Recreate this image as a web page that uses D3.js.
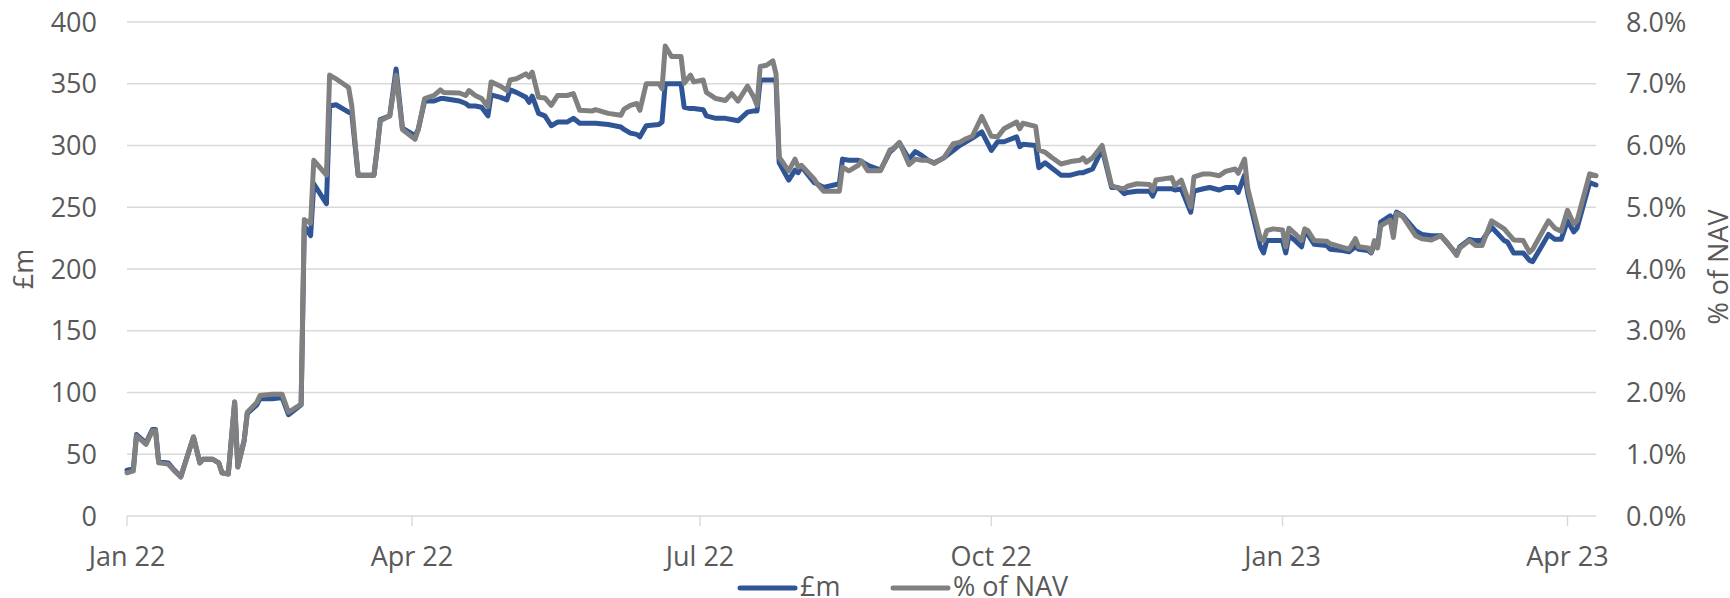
<!DOCTYPE html>
<html>
<head>
<meta charset="utf-8">
<script src="https://cdn.jsdelivr.net/npm/d3@7/dist/d3.min.js"></script>
<style>
  html, body { margin: 0; padding: 0; background: #fff; }
  svg { display: block; font-family: "Open Sans", sans-serif; }
</style>
</head>
<body>
<div id="canvas"></div>
<script>
// observation dates (shared by both series)
const dates = [
  "2022-01-01","2022-01-03","2022-01-04","2022-01-07","2022-01-09","2022-01-10","2022-01-11","2022-01-14","2022-01-16","2022-01-18",
  "2022-01-22","2022-01-24","2022-01-25","2022-01-28","2022-01-30","2022-01-31","2022-02-02","2022-02-04","2022-02-05","2022-02-07",
  "2022-02-08","2022-02-11","2022-02-12","2022-02-16","2022-02-19","2022-02-21","2022-02-25","2022-02-26","2022-02-28","2022-03-01",
  "2022-03-05","2022-03-06","2022-03-08","2022-03-12","2022-03-13","2022-03-15","2022-03-20","2022-03-21","2022-03-22","2022-03-25",
  "2022-03-27","2022-03-29","2022-04-02","2022-04-03","2022-04-05","2022-04-08","2022-04-10","2022-04-11","2022-04-16","2022-04-18",
  "2022-04-19","2022-04-21","2022-04-23","2022-04-25","2022-04-26","2022-04-29","2022-05-01","2022-05-02","2022-05-04","2022-05-07",
  "2022-05-08","2022-05-09","2022-05-11","2022-05-13","2022-05-15","2022-05-17","2022-05-20","2022-05-22","2022-05-24","2022-05-28",
  "2022-05-29","2022-06-02","2022-06-06","2022-06-07","2022-06-09","2022-06-11","2022-06-12","2022-06-14","2022-06-18","2022-06-19",
  "2022-06-20","2022-06-22","2022-06-25","2022-06-26","2022-06-28","2022-06-29","2022-07-02","2022-07-03","2022-07-06","2022-07-09",
  "2022-07-11","2022-07-13","2022-07-16","2022-07-18","2022-07-19","2022-07-20","2022-07-22","2022-07-24","2022-07-25","2022-07-26",
  "2022-07-29","2022-07-31","2022-08-01","2022-08-02","2022-08-06","2022-08-07","2022-08-09","2022-08-14","2022-08-15","2022-08-17",
  "2022-08-20","2022-08-21","2022-08-23","2022-08-27","2022-08-30","2022-08-31","2022-09-02","2022-09-05","2022-09-07","2022-09-09",
  "2022-09-11","2022-09-13","2022-09-16","2022-09-19","2022-09-21","2022-09-23","2022-09-25","2022-09-28","2022-10-01","2022-10-03",
  "2022-10-05","2022-10-09","2022-10-10","2022-10-11","2022-10-15","2022-10-16","2022-10-18","2022-10-20","2022-10-23","2022-10-26",
  "2022-10-29","2022-10-30","2022-10-31","2022-11-02","2022-11-05","2022-11-08","2022-11-10","2022-11-12","2022-11-13","2022-11-16",
  "2022-11-20","2022-11-21","2022-11-22","2022-11-27","2022-11-28","2022-11-30","2022-12-03","2022-12-04","2022-12-07","2022-12-09",
  "2022-12-12","2022-12-14","2022-12-17","2022-12-18","2022-12-20","2022-12-21","2022-12-25","2022-12-26","2022-12-27","2022-12-29",
  "2023-01-01","2023-01-02","2023-01-03","2023-01-05","2023-01-07","2023-01-08","2023-01-09","2023-01-11","2023-01-15","2023-01-16",
  "2023-01-20","2023-01-22","2023-01-24","2023-01-25","2023-01-28","2023-01-29","2023-01-30","2023-01-31","2023-02-01","2023-02-04",
  "2023-02-05","2023-02-06","2023-02-08","2023-02-12","2023-02-14","2023-02-17","2023-02-20","2023-02-22","2023-02-25","2023-02-26",
  "2023-03-01","2023-03-03","2023-03-05","2023-03-08","2023-03-12","2023-03-13","2023-03-15","2023-03-18","2023-03-20","2023-03-21",
  "2023-03-26","2023-03-28","2023-03-30","2023-04-01","2023-04-03","2023-04-04","2023-04-08","2023-04-10"
];

// £m (left axis)
const valueGBPm = [
  37,38,66,59,70,70,44,43,37,32,
  64,43,46,46,43,35,34,92,40,61,
  83,90,95,95,96,82,90,235,227,269,
  253,332,333,327,326,276,276,297,321,324,
  362,314,308,313,336,336,338,338,336,334,
  332,332,331,324,341,339,337,345,343,339,
  335,340,326,324,316,319,319,322,318,318,
  318,317,315,313,310,309,307,316,317,319,
  350,350,350,331,330,330,329,324,322,322,
  321,320,327,328,328,353,353,353,353,286,
  272,280,278,283,270,269,266,269,289,288,
  288,287,284,280,295,297,302,289,295,292,
  288,286,290,296,300,303,306,311,296,303,
  303,307,299,301,300,282,286,282,276,276,
  278,278,279,281,297,266,266,261,262,263,
  263,259,265,265,264,265,246,263,265,266,
  264,266,266,262,276,261,218,213,223,223,
  223,213,227,223,218,230,228,220,219,216,
  215,214,218,216,215,213,220,218,238,243,
  239,246,243,231,228,227,227,221,212,218,
  224,223,223,234,223,222,213,213,207,206,
  228,224,224,239,230,233,270,268
];

// % of NAV (right axis)
const pctNAV = [
  0.70,0.73,1.30,1.16,1.38,1.38,0.86,0.84,0.73,0.63,
  1.28,0.86,0.92,0.92,0.86,0.70,0.68,1.85,0.79,1.22,
  1.68,1.84,1.95,1.97,1.97,1.68,1.81,4.80,4.74,5.76,
  5.52,7.14,7.08,6.94,6.64,5.52,5.52,5.94,6.40,6.48,
  7.14,6.26,6.10,6.26,6.76,6.81,6.90,6.86,6.85,6.81,
  6.89,6.81,6.76,6.63,7.03,6.96,6.89,7.06,7.08,7.16,
  7.11,7.19,6.78,6.77,6.65,6.81,6.81,6.84,6.57,6.56,
  6.58,6.52,6.49,6.59,6.65,6.68,6.57,7.00,7.00,6.92,
  7.61,7.44,7.44,7.01,7.14,7.03,7.06,6.86,6.76,6.73,
  6.84,6.72,6.96,6.78,6.65,7.28,7.30,7.37,7.16,5.81,
  5.59,5.78,5.65,5.68,5.46,5.38,5.26,5.26,5.65,5.59,
  5.68,5.75,5.59,5.59,5.93,5.95,6.05,5.69,5.78,5.76,
  5.76,5.71,5.80,6.03,6.05,6.11,6.15,6.47,6.15,6.14,
  6.27,6.38,6.27,6.36,6.31,5.93,5.89,5.81,5.70,5.74,
  5.76,5.80,5.73,5.80,6.00,5.35,5.31,5.30,5.34,5.38,
  5.37,5.27,5.44,5.48,5.35,5.44,5.00,5.49,5.54,5.54,
  5.51,5.58,5.62,5.55,5.78,5.30,4.49,4.46,4.62,4.65,
  4.63,4.36,4.66,4.57,4.46,4.65,4.62,4.46,4.45,4.41,
  4.35,4.32,4.49,4.36,4.34,4.27,4.46,4.34,4.70,4.79,
  4.51,4.90,4.85,4.54,4.49,4.47,4.54,4.43,4.22,4.34,
  4.46,4.38,4.38,4.78,4.65,4.59,4.47,4.46,4.27,4.32,
  4.78,4.66,4.61,4.95,4.73,4.78,5.54,5.51
];

const xTickDates = ["2022-01-01","2022-04-01","2022-07-01","2022-10-01","2023-01-01","2023-04-01"];
const leftTicks = [0,50,100,150,200,250,300,350,400];
const rightTicks = [0,1,2,3,4,5,6,7,8];
const seriesNames = ["£m", "% of NAV"];

(function() {
    const W = 1730, H = 598;
    const m = { left: 127, right: 1596, top: 22, bottom: 516 };
    const textCol = '#595959', gridCol = '#d9d9d9';
    const blue = '#2F5597', grey = '#808080';

    const parse = d3.utcParse('%Y-%m-%d');
    const svg = d3.select('#canvas').append('svg').attr('width', W).attr('height', H);

    const x = d3.scaleUtc()
        .domain([parse('2022-01-01'), parse('2023-04-10')])
        .range([m.left, m.right]);
    const yL = d3.scaleLinear().domain([0, 400]).range([m.bottom, m.top]);
    const yR = d3.scaleLinear().domain([0, 8]).range([m.bottom, m.top]);

    // gridlines
    svg.append('g').selectAll('line').data(leftTicks).join('line')
        .attr('x1', m.left).attr('x2', m.right)
        .attr('y1', d => yL(d)).attr('y2', d => yL(d))
        .attr('stroke', gridCol).attr('stroke-width', 1.4);

    // x axis tick marks + labels
    const xt = svg.append('g');
    xt.selectAll('line').data(xTickDates).join('line')
        .attr('x1', d => x(parse(d))).attr('x2', d => x(parse(d)))
        .attr('y1', m.bottom).attr('y2', m.bottom + 10)
        .attr('stroke', gridCol).attr('stroke-width', 1.4);
    xt.selectAll('text').data(xTickDates).join('text')
        .attr('x', d => x(parse(d))).attr('y', 566)
        .attr('text-anchor', 'middle')
        .attr('fill', textCol).style('font-size', '27px')
        .text(d => d3.utcFormat('%b %y')(parse(d)));

    // left axis labels
    svg.append('g').selectAll('text').data(leftTicks).join('text')
        .attr('x', 97).attr('y', d => yL(d) + 9.5)
        .attr('text-anchor', 'end')
        .attr('fill', textCol).style('font-size', '27px')
        .text(d => d);

    // right axis labels
    svg.append('g').selectAll('text').data(rightTicks).join('text')
        .attr('x', 1626).attr('y', d => yR(d) + 9.5)
        .attr('text-anchor', 'start')
        .attr('fill', textCol).style('font-size', '27px')
        .text(d => d3.format('.1f')(d) + '%');

    // axis titles
    svg.append('text')
        .attr('transform', 'translate(33,269) rotate(-90)')
        .attr('text-anchor', 'middle')
        .attr('fill', textCol).style('font-size', '27px')
        .text(seriesNames[0]);
    svg.append('text')
        .attr('transform', 'translate(1728,267) rotate(-90)')
        .attr('text-anchor', 'middle')
        .attr('fill', textCol).style('font-size', '27px')
        .text(seriesNames[1]);

    // lines (grey drawn last, on top)
    const rows = dates.map((d, i) => ({ date: parse(d), gbp: valueGBPm[i], pct: pctNAV[i] }));
    const lineL = d3.line().x(d => x(d.date)).y(d => yL(d.gbp));
    const lineR = d3.line().x(d => x(d.date)).y(d => yR(d.pct));

    svg.append('path').datum(rows)
        .attr('d', lineL).attr('fill', 'none')
        .attr('stroke', blue).attr('stroke-width', 5)
        .attr('stroke-linejoin', 'round').attr('stroke-linecap', 'round');
    svg.append('path').datum(rows)
        .attr('d', lineR).attr('fill', 'none')
        .attr('stroke', grey).attr('stroke-width', 5)
        .attr('stroke-linejoin', 'round').attr('stroke-linecap', 'round');

    // legend
    const legend = [
        { name: seriesNames[0], color: blue, x0: 740 },
        { name: seriesNames[1], color: grey, x0: 893 }
    ];
    const lg = svg.append('g').selectAll('g').data(legend).join('g');
    lg.append('line')
        .attr('x1', d => d.x0).attr('x2', d => d.x0 + 55)
        .attr('y1', 588).attr('y2', 588)
        .attr('stroke', d => d.color).attr('stroke-width', 5)
        .attr('stroke-linecap', 'round');
    lg.append('text')
        .attr('x', d => d.x0 + 60).attr('y', 596)
        .attr('fill', textCol).style('font-size', '27px')
        .text(d => d.name);
})();
</script>
</body>
</html>
